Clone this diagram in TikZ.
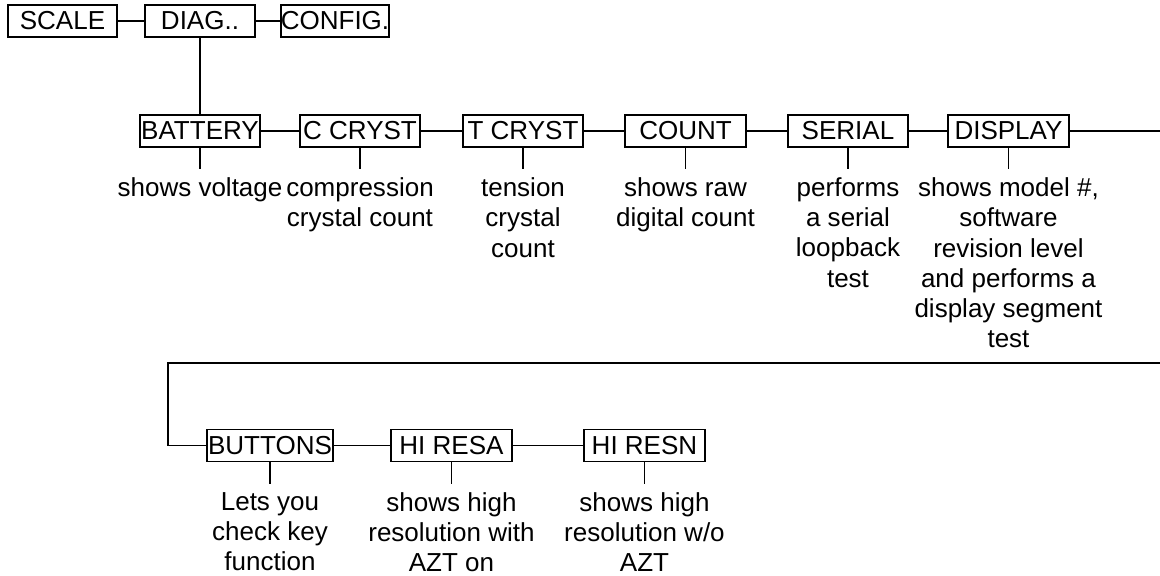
\documentclass[tikz,border=0pt]{standalone}
\usepackage{fontspec}
\setmainfont{Liberation Sans}
\usetikzlibrary{positioning}

\begin{document}
\begin{tikzpicture}[x=0.025cm, y=-0.025cm, line width=1.4pt,
      every node/.style={font=\fontsize{18.5}{21.4}\selectfont},
      menu/.style={draw, minimum height=8mm, inner xsep=1pt, inner ysep=0pt},
      item/.style={menu, minimum width=3.02cm},
      desc/.style={align=center, inner sep=0pt}]
    \useasboundingbox (0,0) rectangle (1160,575);

    \node[menu, minimum width=2.72cm] (scale)  at (62.5,21) {SCALE};
    \node[menu, minimum width=2.75cm] (diag)   at (200,21)  {DIAG..};
    \node[menu, inner xsep=0pt]       (config) at (335,21)  {CONFIG.};

    \node[item] (battery) at (200,131)    {BATTERY};
    \node[item] (ccryst)  at (360,131)    {C CRYST};
    \node[item] (tcryst)  at (523,131)    {T CRYST};
    \node[item] (count)   at (685.5,131)  {COUNT};
    \node[item] (serial)  at (848,131)    {SERIAL};
    \node[item] (display) at (1008.5,131) {DISPLAY};

    \node[item] (buttons) at (270,445.5)   {BUTTONS};
    \node[item] (hiresa)  at (451.5,445.5) {HI RESA};
    \node[item] (hiresn)  at (644.5,445.5) {HI RESN};

    \coordinate (edge1) at (1160,131);
    \coordinate (edge2) at (1160,363);
    \coordinate (loop)  at (168,363);

    \draw (scale) -- (diag);
    \draw (diag) -- (config);
    \draw (diag.south) -- (battery.north);
    \draw (battery) -- (ccryst);
    \draw (ccryst) -- (tcryst);
    \draw (tcryst) -- (count);
    \draw (count) -- (serial);
    \draw (serial) -- (display);
    \draw (display) -- (edge1);
    \draw (edge2) -- (loop) |- (buttons);
    \draw (buttons) -- (hiresa);
    \draw (hiresa) -- (hiresn);

    \foreach \b in {battery, ccryst, tcryst, count, serial, display,
                    buttons, hiresa, hiresn} {
      \coordinate[below=5.25mm of \b.south] (\b-t);
      \draw (\b.south) -- (\b-t);
    }

    \node[desc, below=2mm of battery-t] (battery-d) {shows voltage};
    \node[desc, below=2mm of ccryst-t]  (ccryst-d)  {compression\\crystal count};
    \node[desc, below=2mm of tcryst-t]  (tcryst-d)  {tension\\crystal\\count};
    \node[desc, below=2mm of count-t]   (count-d)   {shows raw\\digital count};
    \node[desc, below=2mm of serial-t]  (serial-d)  {performs\\a serial\\loopback\\test};
    \node[desc, below=2mm of display-t] (display-d) {shows model \#,\\software\\revision level\\and performs a\\display segment\\test};
    \node[desc, below=2mm of buttons-t] (buttons-d) {Lets you\\check key\\function};
    \node[desc, below=2mm of hiresa-t]  (hiresa-d)  {shows high\\resolution with\\AZT on};
    \node[desc, below=2mm of hiresn-t]  (hiresn-d)  {shows high\\resolution w/o\\AZT};
  \end{tikzpicture}
\end{document}
